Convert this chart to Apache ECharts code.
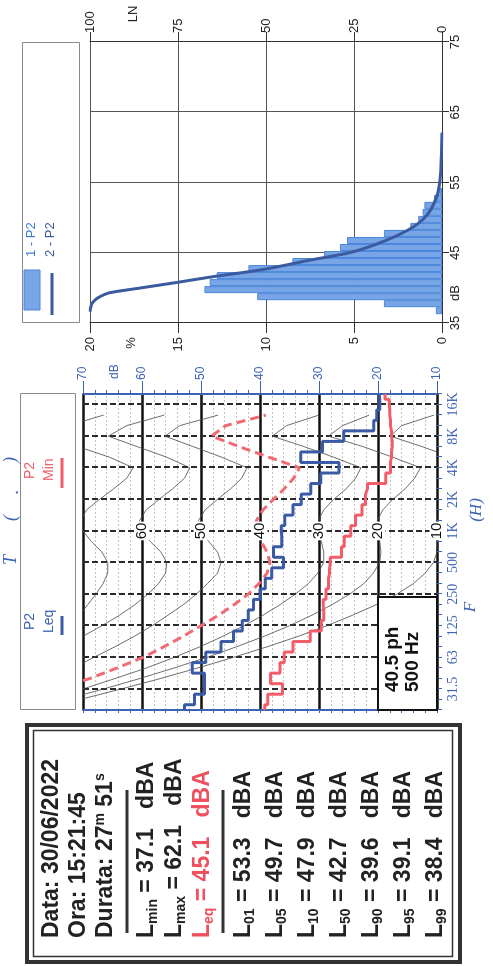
<!DOCTYPE html>
<html>
<head>
<meta charset="utf-8">
<script src="https://cdn.jsdelivr.net/npm/echarts@6/dist/echarts.min.js"></script>
<style>
html,body{margin:0;padding:0;background:#fff;overflow:hidden;width:493px;height:966px;}
#c{position:absolute;left:0;top:0;width:966px;height:493px;transform-origin:0 0;transform:rotate(-90deg) translate(-966px,0);}
</style>
</head>
<body>
<div id="c"></div>
<script>
// ---------------- data ----------------
const bandLabels = ['20','25','31.5','40','50','63','80','100','125','160','200','250','315','400','500','630','800','1K','1.25K','1.6K','2K','2.5K','3.15K','4K','5K','6.3K','8K','10K','12.5K','16K','20K'];
const leqP2 = [52.8,51.1,49.4,49.4,51.5,49.2,46.6,44.5,43.0,42.0,41.1,40.0,39.1,38.0,36.0,37.7,36.3,36.4,35.8,34.4,33.0,31.4,29.7,26.6,33.1,29.4,25.8,20.7,20.2,19.7,19.8];
const minP2 = [39.2,38.7,36.2,38.2,36.6,35.9,34.4,31.5,29.6,29.2,29.3,28.8,28.4,28.2,28.1,26.2,25.7,24.6,23.8,22.7,22.1,21.8,18.7,17.9,17.7,17.6,17.7,17.9,18.0,18.1,18.8];
const phon405 = [null,null,74.5,68.8,64.2,59.8,56.3,53.0,50.0,47.0,44.4,42.0,40.2,38.8,38.3,38.8,39.8,40.5,40.6,39.5,37.7,35.9,34.3,33.3,38.5,43.5,48.2,45.8,39.0,null,null];
const phon70 = [null,null,null,null,null,null,null,null,73.5,70.6,69.2,67.8,66.6,65.8,65.8,66.8,68.6,70.0,70.4,69.4,67.2,64.8,62.6,61.5,65.5,70.8,76.0,72.5,66.5,null,null];
const phon60 = [null,null,null,null,null,null,72.5,70.0,66.8,63.8,61.2,59.0,57.2,56.0,55.8,56.8,58.6,60.0,60.4,59.3,57.1,54.8,52.8,51.9,55.8,60.8,65.7,62.6,56.2,null,null];
const phon50 = [null,null,null,null,71.5,68.2,64.6,61.3,58.3,55.6,53.0,50.8,48.9,47.2,46.6,47.2,48.7,50.0,50.4,49.3,47.2,45.0,43.1,42.2,46.5,51.3,56.1,53.6,47.1,null,null];
const phon30 = [null,75.0,70.0,64.5,59.2,54.5,50.2,46.3,42.7,39.5,36.6,34.0,31.8,30.2,29.2,29.2,29.6,30.0,30.1,29.2,27.5,25.4,23.8,22.9,27.5,32.5,37.9,35.5,30.0,null,null];
const phon20 = [80.0,73.0,66.5,60.3,54.5,49.0,44.0,39.3,35.0,31.2,27.8,24.8,22.4,20.8,19.7,19.5,19.7,20.0,20.1,19.2,17.5,15.4,13.8,12.8,17.5,22.5,28.4,26.0,21.5,null,null];
const phon10 = [76.0,70.5,63.5,56.8,50.5,44.5,38.8,33.5,28.7,24.3,20.3,16.8,14.0,12.0,10.6,10.0,9.9,10.0,10.1,9.2,7.5,5.4,3.8,2.9,7.5,12.5,17.9,16.0,10.5,null,null];
const phonLabels = [60,50,40,30,20,10];

const histDb  = [36.75,37.75,38.75,39.75,40.75,41.75,42.75,43.75,44.75,45.75,46.75,47.75,48.75,49.75,50.75,51.75,52.75,53.75];
const histPct = [0.35,3.3,10.5,13.5,13.2,12.8,11.0,8.5,6.7,5.8,5.4,3.3,1.8,1.35,1.1,1.0,0.45,0.15];
const lnDb  = [36.6,37.6,38.3,38.8,39.3,40.0,40.8,41.6,42.6,44.0,45.1,46.8,48.7,50.6,53.0,55.3,58.5,62.1];
const lnPct = [100,99.6,98.5,97,94.5,85.5,75,65,51,37,25.5,15.7,8.1,3.9,1.5,0.6,0.2,0];

const statDate = '30/06/2022';
const statTime = '15:21:45';
const durMin = '27', durSec = '51';
const lMin = '37.1', lMax = '62.1', lEq = '45.1';
const pctNames  = ['01','05','10','50','90','95','99'];
const pctValues = ['53.3','49.7','47.9','42.7','39.6','39.1','38.4'];

// ---------------- styles ----------------
const BLUE = '#3d63b2';
const LEQ = '#3a5aa6';
const RED = '#f25d69';
const SANS = '"Liberation Sans", Arial, sans-serif';
const SERIF = '"Liberation Serif", "Times New Roman", serif';

const chart = echarts.init(document.getElementById('c'), null, {renderer:'canvas', width:966, height:493});

function contour(data){
  return {type:'line', xAxisIndex:0, yAxisIndex:0, data:data, symbol:'none', silent:true,
    lineStyle:{color:'#4a4a4a', width:0.8}, z:2, connectNulls:false};
}

// ---------- graphic (text box & legends) ----------
const G = [];
const bold = {fontSize:23, fontWeight:'bold', fontFamily:SANS, fill:'#222', lineHeight:26};
const sub = {fontSize:14, fontWeight:'bold', fontFamily:SANS, fill:'#222', lineHeight:13, verticalAlign:'bottom'};
const sup = {fontSize:14, fontWeight:'bold', fontFamily:SANS, fill:'#222', lineHeight:13, verticalAlign:'top'};
const rbold = Object.assign({}, bold, {fill:'#f0505e'});
const rsub = Object.assign({}, sub, {fill:'#f0505e'});
function t(x, y, text, extra){
  return {type:'text', x:x, y:y, z:120, style:Object.assign({text:text, verticalAlign:'middle'}, extra)};
}
G.push({type:'rect', z:100, shape:{x:4, y:27, width:237, height:433}, style:{fill:'#fff', stroke:'#333', lineWidth:4}});
G.push({type:'rect', z:101, shape:{x:9.5, y:33.5, width:226, height:419}, style:{fill:'none', stroke:'#333', lineWidth:1.5}});
const richAll = {b:bold, s:sub, p:sup, r:rbold, rs:rsub};
G.push(t(28, 52, '{b|Data: ' + statDate + '}', {rich:richAll}));
G.push(t(28, 79, '{b|Ora: ' + statTime + '}', {rich:richAll}));
G.push(t(28, 106, '{b|Durata: ' + durMin + '}{p|m}{b| ' + durSec + '}{p|s}', {rich:richAll}));
G.push({type:'line', z:120, shape:{x1:33, y1:127, x2:176, y2:127}, style:{stroke:'#333', lineWidth:3}});
G.push(t(28, 147, '{b|L}{s|min}{b| = ' + lMin + '   dBA}', {rich:richAll}));
G.push(t(28, 175, '{b|L}{s|max}{b| = ' + lMax + '   dBA}', {rich:richAll}));
G.push(t(28, 203, '{r|L}{rs|eq}{r| = ' + lEq + '   dBA}', {rich:richAll}));
G.push({type:'line', z:120, shape:{x1:33, y1:223, x2:176, y2:223}, style:{stroke:'#333', lineWidth:3}});
const pctY = [244,276,308,340,372,404,436];
pctNames.forEach(function(n, i){
  G.push(t(28, pctY[i], '{b|L}{s|' + n + '}{b| = ' + pctValues[i] + '   dBA}', {rich:richAll}));
});

// band chart legend
G.push({type:'rect', z:100, shape:{x:256.5, y:20.5, width:316, height:55}, style:{fill:'#fff', stroke:'#8a8a8a', lineWidth:1}});
G.push(t(336, 30, 'P2', {font:'14px ' + SANS, fill:BLUE}));
G.push(t(333, 49, 'Leq', {font:'14px ' + SANS, fill:BLUE}));
G.push({type:'line', z:120, shape:{x1:331, y1:62, x2:350, y2:62}, style:{stroke:LEQ, lineWidth:3}});
G.push(t(487, 30, 'P2', {font:'14px ' + SANS, fill:RED}));
G.push(t(485, 49, 'Min', {font:'14px ' + SANS, fill:RED}));
G.push({type:'line', z:120, shape:{x1:478, y1:62, x2:508, y2:62}, style:{stroke:RED, lineWidth:3}});
G.push(t(406, 11, 'T', {font:'italic 18px ' + SERIF, fill:BLUE, align:'center'}));
G.push(t(448, 11, '(', {font:'italic 18px ' + SERIF, fill:BLUE, align:'center'}));
G.push(t(474, 13, '.', {font:'italic 18px ' + SERIF, fill:BLUE, align:'center'}));
G.push(t(506, 11, ')', {font:'italic 18px ' + SERIF, fill:BLUE, align:'center'}));
G.push(t(359, 471, 'F', {font:'italic 17px ' + SERIF, fill:BLUE, align:'center'}));
G.push(t(456, 477, '(H)', {font:'italic 17px ' + SERIF, fill:BLUE, align:'center'}));
G.push(t(587, 115, 'dB', {font:'12px ' + SANS, fill:BLUE}));
// 40.5 ph box
G.push({type:'rect', z:110, shape:{x:256, y:378, width:113, height:59}, style:{fill:'#fff', stroke:'#111', lineWidth:2}});
G.push(t(274, 393, '40.5 ph', {font:'bold 19px ' + SANS, fill:'#111'}));
G.push(t(274, 413, '500 Hz', {font:'bold 19px ' + SANS, fill:'#111'}));

// histogram legend
G.push({type:'rect', z:100, shape:{x:643.5, y:22.5, width:280, height:57}, style:{fill:'#fff', stroke:'#8a8a8a', lineWidth:1}});
G.push({type:'rect', z:110, shape:{x:656, y:24, width:40, height:16}, style:{fill:'#78a5e6', stroke:'#4a86da', lineWidth:1}});
G.push(t(709, 31, '1 - P2', {font:'13px ' + SANS, fill:'#3f7bd6'}));
G.push({type:'line', z:110, shape:{x1:651, y1:52, x2:693, y2:52}, style:{stroke:'#3b5aa0', lineWidth:3}});
G.push(t(709, 50, '2 - P2', {font:'13px ' + SANS, fill:'#3b5aa0'}));
G.push(t(623, 131, '%', {font:'13px ' + SANS, fill:'#222', align:'center'}));
G.push(t(952, 133, 'LN', {font:'13px ' + SANS, fill:'#222', align:'center'}));
G.push(t(673, 455, 'dB', {font:'13px ' + SANS, fill:'#222', align:'center'}));

// ---------------- option ----------------
const option = {
  animation:false,
  backgroundColor:'#fff',
  grid:[
    {left:256, top:83, width:316, height:354, containLabel:false, outerBoundsMode:'none'},
    {left:643, top:90, width:281, height:352, containLabel:false, outerBoundsMode:'none'}
  ],
  xAxis:[
    {type:'category', gridIndex:0, data:bandLabels, boundaryGap:false,
     axisLine:{show:false},
     axisTick:{show:true, interval:0, length:5, lineStyle:{color:BLUE, width:1}},
     axisLabel:{interval:function(i){return i % 3 === 2;}, margin:9, color:BLUE, fontFamily:SERIF, fontSize:14},
     splitLine:{show:true, interval:function(i){return i % 3 === 2;}, lineStyle:{color:'#2a2a2a', width:2, type:[6,3]}}},
    {type:'value', gridIndex:1, min:35, max:75, interval:10,
     axisLine:{show:true, lineStyle:{color:'#333', width:1}},
     axisTick:{show:true, length:7, lineStyle:{color:'#333'}},
     axisLabel:{margin:7, color:'#222', fontSize:13, fontFamily:SANS},
     splitLine:{show:true, lineStyle:{color:'#555', width:1}}}
  ],
  yAxis:[
    {type:'value', gridIndex:0, position:'right', min:10, max:70, interval:10,
     axisLine:{show:true, lineStyle:{color:BLUE, width:2}},
     axisTick:{show:true, length:13, lineStyle:{color:BLUE, width:1}},
     minorTick:{show:true, splitNumber:5, length:4, lineStyle:{color:BLUE}},
     axisLabel:{margin:14, color:BLUE, fontSize:12, fontFamily:SANS},
     splitLine:{show:true, lineStyle:{color:'#111', width:2.5}},
     minorSplitLine:{show:true, lineStyle:{color:'#c4c4c4', width:1, type:[2,2]}}},
    {type:'value', gridIndex:0, position:'left', min:10, max:70, interval:10,
     axisLine:{show:true, lineStyle:{color:BLUE, width:2}},
     axisTick:{show:true, length:3, lineStyle:{color:BLUE}},
     minorTick:{show:true, splitNumber:5, length:3, lineStyle:{color:BLUE}},
     axisLabel:{show:false}, splitLine:{show:false}},
    {type:'value', gridIndex:1, position:'left', min:0, max:20, interval:5,
     axisLine:{show:true, lineStyle:{color:'#333', width:1}},
     axisTick:{show:true, length:10, lineStyle:{color:'#333'}},
     axisLabel:{margin:14, color:'#222', fontSize:13, fontFamily:SANS},
     splitLine:{show:true, lineStyle:{color:'#555', width:1}}},
    {type:'value', gridIndex:1, position:'right', min:0, max:100, interval:25,
     axisLine:{show:true, lineStyle:{color:'#333', width:1}},
     axisTick:{show:true, length:10, lineStyle:{color:'#333'}},
     axisLabel:{margin:9, color:'#222', fontSize:13, fontFamily:SANS},
     splitLine:{show:false}}
  ],
  series:[
    contour(phon10), contour(phon20), contour(phon30), contour(phon50), contour(phon60), contour(phon70),
    {type:'line', xAxisIndex:0, yAxisIndex:0, data:phon405, symbol:'none', silent:true, z:3,
     lineStyle:{color:'#f26a74', width:3, type:[9,5]}},
    {type:'line', xAxisIndex:0, yAxisIndex:0, data:minP2, step:'middle', symbol:'none', silent:true, z:4,
     lineStyle:{color:RED, width:3}},
    {type:'line', xAxisIndex:0, yAxisIndex:0, data:leqP2, step:'middle', symbol:'none', silent:true, z:5,
     lineStyle:{color:LEQ, width:3}},
    {type:'scatter', xAxisIndex:0, yAxisIndex:0, data:phonLabels.map(function(v){return [17, v];}),
     symbol:'circle', symbolSize:2, itemStyle:{color:'rgba(255,255,255,0)', opacity:1}, silent:true, z:6,
     label:{show:true, position:'inside', formatter:function(p){return String(p.value[1]);},
       color:'#111', fontSize:15, fontFamily:SANS, backgroundColor:'#fff', padding:[0,1]}},
    {type:'bar', xAxisIndex:1, yAxisIndex:2, data:histDb.map(function(d, i){return [d, histPct[i]];}),
     barWidth:7, silent:true, z:3,
     itemStyle:{color:'#78a5e6', borderColor:'#4a86da', borderWidth:1}},
    {type:'line', xAxisIndex:1, yAxisIndex:3, data:lnDb.map(function(d, i){return [d, lnPct[i]];}),
     smooth:0.25, symbol:'none', silent:true, z:4,
     lineStyle:{color:'#3b5aa0', width:3}}
  ],
  graphic:G
};
chart.setOption(option);
</script>
</body>
</html>
